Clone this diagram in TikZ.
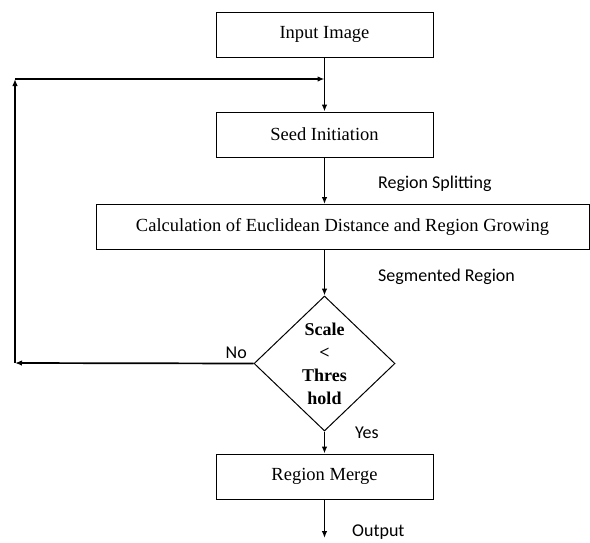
\documentclass[tikz,border=0pt]{standalone}
\usepackage{fontspec}
\setmainfont{Liberation Serif}
\newfontfamily\lblfont{Carlito}
\usetikzlibrary{arrows.meta, shapes.geometric}

\tikzset{
  stepbox/.style={draw, line width=1pt, rectangle, inner sep=0pt,
    minimum height=45pt, font=\fontsize{18.5}{22}\selectfont},
  decbox/.style={draw, line width=1pt, diamond, inner sep=0pt,
    minimum width=141pt, minimum height=135pt, align=center,
    font=\fontsize{18}{23}\selectfont\bfseries},
  lbl/.style={inner sep=0pt, font=\lblfont\fontsize{18}{21}\selectfont},
  flow/.style={line width=1.3pt, -{Latex[length=7pt,width=5.5pt]}},
  loop/.style={line width=1.7pt, -{Latex[length=7pt,width=5.5pt]}}
}

\begin{document}
\begin{tikzpicture}[x=1pt,y=-1pt]
  \useasboundingbox[fill=white] (0,0) rectangle (590,542);

  % boxes
  \node[stepbox, minimum width=217pt] (input) at (324.5,34.5) {Input Image};
  \node[stepbox, minimum width=217pt] (seed)  at (324.5,134.5) {Seed Initiation};
  \node[stepbox, minimum width=493pt] (calc)  at (342.5,227) {Calculation of Euclidean Distance and Region Growing};
  \node[decbox] (dec) at (324.5,363.5) {Scale\\<\\Thres\\hold};
  \node[stepbox, minimum width=217pt] (merge) at (324.5,476.5) {Region Merge};

  % loop corners
  \coordinate (join) at (324.5,79);
  \coordinate (fbA)  at (15,363);
  \coordinate (fbB)  at (15,79);
  \coordinate (out)  at (324.5,538);

  % main flow
  \draw[flow] (input) -- (seed);
  \draw[flow] (seed.south) -- (seed.south |- calc.north);
  \draw[flow] (dec.north |- calc.south) -- (dec.north);
  \draw[flow] (dec.south) -- (merge.north);
  \draw[flow] (merge.south) -- (out);

  % back to seed
  \draw[loop] (dec.west) -- (fbA);
  \draw[loop] (fbA) -- (fbB);
  \draw[loop] (fbB) -- (join);

  % labels
  \node[lbl, anchor=west] (split) at (378,184) {Region Splitting};
  \node[lbl, anchor=west] (segm)  at (378,277) {Segmented Region};
  \node[lbl, anchor=east] (no)    at (247,353) {No};
  \node[lbl, anchor=west] (yes)   at (355,433) {Yes};
  \node[lbl, anchor=base west] (output) at (352,536) {Output};
\end{tikzpicture}
\end{document}
